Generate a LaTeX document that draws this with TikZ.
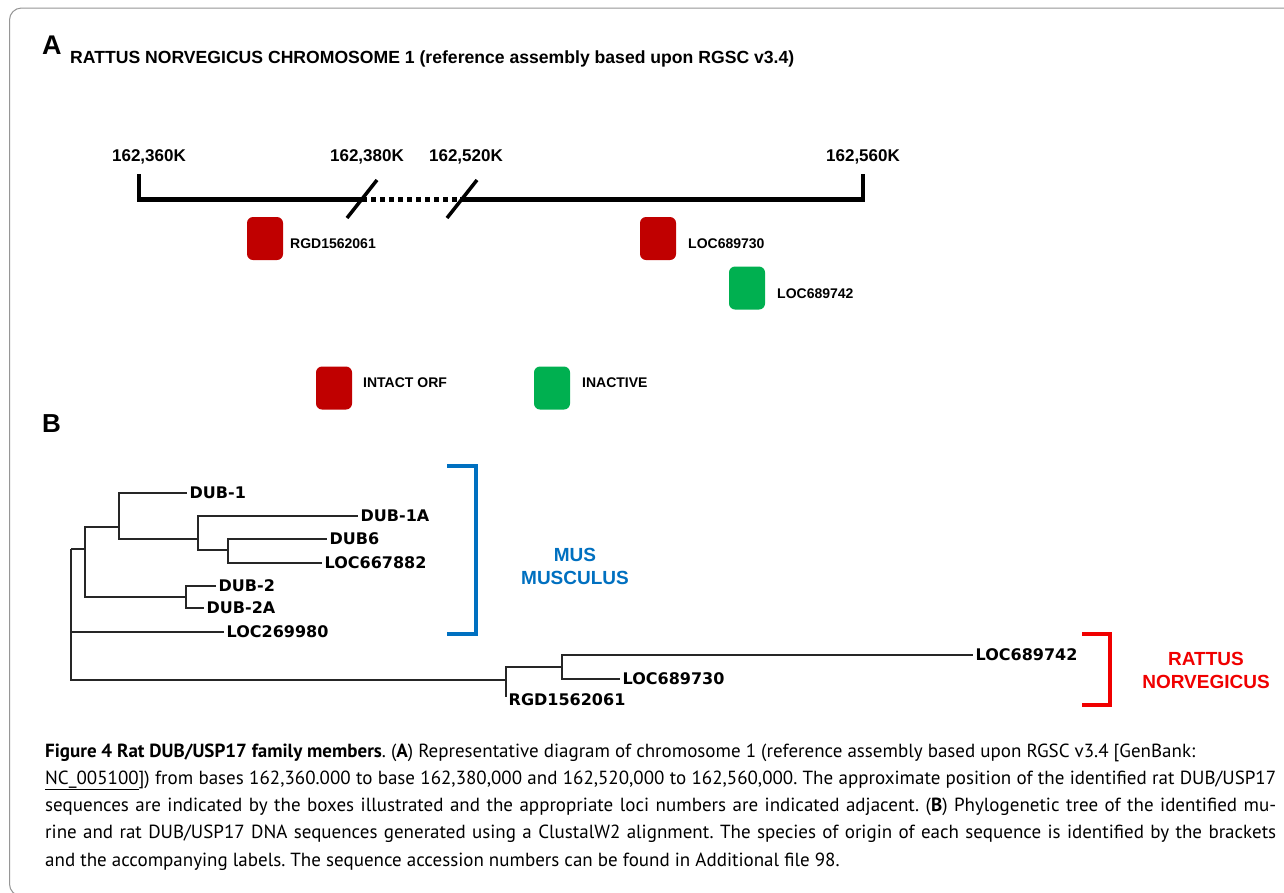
\documentclass[tikz,border=0pt]{standalone}
\usepackage{fontspec}
\setmainfont{Liberation Sans}
\newfontfamily\treefont{DejaVu Sans}
\newfontfamily\capfont{PT Sans}
\definecolor{boxred}{RGB}{192,0,0}
\definecolor{boxgreen}{RGB}{0,176,80}
\definecolor{musblue}{RGB}{0,112,192}
\definecolor{ratred}{RGB}{240,0,0}
\definecolor{framegray}{RGB}{150,150,150}
\tikzset{
  axisline/.style={line width=4.5pt},
  slashline/.style={line width=3.5pt},
  poslabel/.style={font=\fontsize{17}{18}\selectfont\bfseries, inner sep=0pt},
  locbox/.style={rounded corners=6pt, minimum width=36pt, minimum height=43pt, inner sep=0pt},
  loclabel/.style={font=\fontsize{14}{15}\selectfont\bfseries, inner sep=0pt, anchor=west},
  leaf/.style={font=\treefont\bfseries\fontsize{16}{17}\selectfont, anchor=west, inner xsep=2.5pt, inner ysep=0pt, text height=11.7pt, text depth=0pt},
  branch/.style={line width=1.2pt, black!85},
  bracket/.style={line width=4pt},
  species/.style={font=\fontsize{19}{23}\selectfont\bfseries, align=center, inner sep=0pt},
  capline/.style={font=\capfont\fontsize{19}{22}\selectfont\frenchspacing, anchor=base west, inner sep=0pt},
}
\begin{document}
\begin{tikzpicture}[x=1pt,y=-1pt]
\useasboundingbox (0,0) rectangle (1284,892);
\fill[white] (0,0) rectangle (1284,892);
\draw[framegray, line width=1pt, rounded corners=12pt] (9.5,8) rectangle (1320,896);

% ---------- Panel A ----------
\node[anchor=base west, inner sep=0pt, font=\fontsize{27}{28}\selectfont\bfseries] (pA) at (42,54) {A};
\node[anchor=base west, inner sep=0pt, font=\fontsize{17.6}{18}\selectfont\bfseries] (titleA) at (70,63) {RATTUS NORVEGICUS CHROMOSOME 1 (reference assembly based upon RGSC v3.4)};

\coordinate (tl) at (139,174);
\coordinate (axl) at (139,199.5);
\coordinate (brk1) at (362,199.5);
\coordinate (brk2) at (460,199.5);
\coordinate (axr) at (863,199.5);
\coordinate (tr) at (863,174);
\draw[axisline] (tl) -- (axl) -- (brk1);
\draw[axisline, dash pattern=on 5pt off 4pt] (brk1) -- (brk2);
\draw[axisline] (brk2) -- (axr) -- (tr);
\coordinate (s1a) at (347,218); \coordinate (s1b) at (377,180);
\coordinate (s2a) at (447,218); \coordinate (s2b) at (477,180);
\draw[slashline] (s1a) -- (s1b);
\draw[slashline] (s2a) -- (s2b);

\node[poslabel] (p1) at (149,157) {162,360K};
\node[poslabel] (p2) at (367,157) {162,380K};
\node[poslabel] (p3) at (466,157) {162,520K};
\node[poslabel] (p4) at (863,157) {162,560K};

\node[locbox, fill=boxred] (b1) at (265,238.5) {};
\node[loclabel] (l1) at (290,244) {RGD1562061};
\node[locbox, fill=boxred] (b2) at (658,238.5) {};
\node[loclabel] (l2) at (688,244) {LOC689730};
\node[locbox, fill=boxgreen] (b3) at (747,288) {};
\node[loclabel] (l3) at (777,294) {LOC689742};

\node[locbox, fill=boxred] (k1) at (334,388) {};
\node[loclabel] (kl1) at (363,383) {INTACT ORF};
\node[locbox, fill=boxgreen] (k2) at (552,388) {};
\node[loclabel] (kl2) at (582,383) {INACTIVE};

% ---------- Panel B ----------
\node[anchor=base west, inner sep=0pt, font=\fontsize{26}{27}\selectfont\bfseries] (pB) at (42,432) {B};

\coordinate (r) at (71,549);
\coordinate (a) at (85,549);
\coordinate (b) at (119,527);
\coordinate (c) at (198,539);
\coordinate (d) at (228,550);
\coordinate (g) at (186,597);
\coordinate (e) at (506,680);
\coordinate (f) at (562,667);

\node[leaf] (dub1) at (187,493) {DUB-1};
\node[leaf] (dub1a) at (358,516) {DUB-1A};
\node[leaf] (dub6) at (327,539) {DUB6};
\node[leaf] (loc667882) at (322,563) {LOC667882};
\node[leaf] (dub2) at (216,586) {DUB-2};
\node[leaf] (dub2a) at (204,608) {DUB-2A};
\node[leaf] (loc269980) at (224,632) {LOC269980};
\node[leaf] (loc689742) at (973,655) {LOC689742};
\node[leaf] (loc689730) at (620,679) {LOC689730};
\node[leaf] (rgd) at (506,700) {RGD1562061};

\draw[branch] (r) -- (a);
\draw[branch] (a) |- (b);
\draw[branch] (a) |- (g);
\draw[branch] (b) |- (dub1.west);
\draw[branch] (b) |- (c);
\draw[branch] (c) |- (dub1a.west);
\draw[branch] (c) |- (d);
\draw[branch] (d) |- (dub6.west);
\draw[branch] (d) |- (loc667882.west);
\draw[branch] (g) |- (dub2.west);
\draw[branch] (g) |- (dub2a.west);
\draw[branch] (r) |- (loc269980.west);
\draw[branch] (r) |- (e);
\draw[branch] (e) |- (f);
\draw[branch] (e) |- ([yshift=3pt]rgd.west);
\draw[branch] (f) |- (loc689742.west);
\draw[branch] (f) |- (loc689730.west);

\coordinate (mb1) at (447,466); \coordinate (mb2) at (476,466);
\coordinate (mb3) at (476,634); \coordinate (mb4) at (447,634);
\draw[bracket, musblue] (mb1) -- (mb2) -- (mb3) -- (mb4);
\node[species, text=musblue] (mus) at (575,566) {MUS\\MUSCULUS};

\coordinate (rb1) at (1082,634); \coordinate (rb2) at (1110,634);
\coordinate (rb3) at (1110,705); \coordinate (rb4) at (1082,705);
\draw[bracket, ratred] (rb1) -- (rb2) -- (rb3) -- (rb4);
\node[species, text=ratred] (rat) at (1206,670) {RATTUS\\NORVEGICUS};

% ---------- Caption ----------
\node[capline] (c1) at (45,757) {\textbf{Figure 4 Rat DUB/USP17 family members}. (\textbf{A}) Representative diagram of chromosome 1 (reference assembly based upon RGSC v3.4 [GenBank:};
\node[capline] (c2) at (45,784) {\makebox[1231pt][s]{\underline{NC\_005100}]) from bases 162,360.000 to base 162,380,000 and 162,520,000 to 162,560,000. The approximate position of the identified rat DUB/USP17}};
\node[capline] (c3) at (45,811) {\makebox[1231pt][s]{sequences are indicated by the boxes illustrated and the appropriate loci numbers are indicated adjacent. (\textbf{B}) Phylogenetic tree of the identified mu-}};
\node[capline] (c4) at (45,838.5) {\makebox[1231pt][s]{rine and rat DUB/USP17 DNA sequences generated using a ClustalW2 alignment. The species of origin of each sequence is identified by the brackets}};
\node[capline] (c5) at (45,866) {and the accompanying labels. The sequence accession numbers can be found in Additional file 98.};
\end{tikzpicture}
\end{document}
